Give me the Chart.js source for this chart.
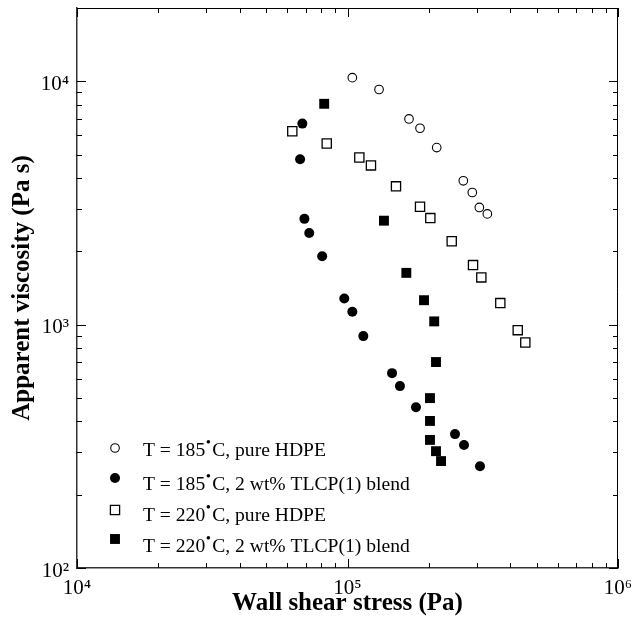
<!DOCTYPE html>
<html lang="en">
<head>
  <meta charset="UTF-8">
  <title>Apparent viscosity vs wall shear stress</title>
  <script src="https://cdn.jsdelivr.net/npm/chart.js"></script>
  <style>
    body { margin: 0; background: #fff; }
  </style>
</head>
<body>
  <canvas id="grafico" width="642" height="626"></canvas>
<script>
  // valores: tensao na parede (Pa) e viscosidade aparente (Pa s)
  const tensao185Puro = [104200, 130800, 168800, 185400, 213700, 268000, 289300, 307200, 328800]
  const visc185Puro = [10350, 9250, 7000, 6410, 5340, 3900, 3490, 3030, 2850]

  const tensao185Blenda = [68100, 66800, 69300, 72200, 80600, 97300, 104200, 114400, 146100, 156300, 179100, 249700, 269600, 308900]
  const visc185Blenda = [6700, 4780, 2720, 2380, 1910, 1280, 1130, 897, 632, 559, 458, 355, 320, 262]

  const tensao220Puro = [62500, 83800, 110600, 122100, 151100, 185400, 202400, 242800, 291100, 312400, 367200, 425900, 454300]
  const visc220Puro = [6230, 5550, 4860, 4510, 3700, 3050, 2740, 2200, 1756, 1563, 1226, 949, 845]

  const tensao220Blenda = [82000, 136400, 165000, 191800, 209200, 212400, 201800, 201800, 201800, 212400, 221700]
  const visc220Blenda = [8080, 2674, 1632, 1260, 1031, 702, 499, 402, 336, 302, 275]

  const legendas = ['T = 185°C, pure HDPE', 'T = 185°C, 2 wt% TLCP(1) blend', 'T = 220°C, pure HDPE', 'T = 220°C, 2 wt% TLCP(1) blend']

  const decadasX = [1e4, 1e5, 1e6]
  const rotulosX = ['10⁴', '10⁵', '10⁶']
  const decadasY = [1e2, 1e3, 1e4]
  const rotulosY = ['10²', '10³', '10⁴']

  const fonte = 'Liberation Serif, Times New Roman, serif'

  function pontos(xs, ys) {
    let lista = []
    for (let i = 0; i < xs.length; i++) {
      lista.push({ x: xs[i], y: ys[i] })
    }
    return lista
  }

  // tracinhos internos nos quatro lados + moldura de cima e da direita
  const moldura = {
    id: 'moldura',
    afterDraw(chart) {
      const ctx = chart.ctx
      const a = chart.chartArea
      const sx = chart.scales.x
      const sy = chart.scales.y
      ctx.save()
      ctx.strokeStyle = '#000'
      ctx.lineWidth = 1
      ctx.beginPath()
      ctx.moveTo(a.left, a.top + 0.5)
      ctx.lineTo(a.right - 0.5, a.top + 0.5)
      ctx.lineTo(a.right - 0.5, a.bottom)
      ctx.stroke()

      ctx.beginPath()
      for (let d = 1e4; d < 1e6; d *= 10) {
        for (let m = 1; m <= 10; m++) {
          const px = Math.round(sx.getPixelForValue(d * m)) + 0.5
          const len = (m == 1 || m == 10) ? 9 : 5
          ctx.moveTo(px, a.bottom); ctx.lineTo(px, a.bottom - len)
          ctx.moveTo(px, a.top); ctx.lineTo(px, a.top + len)
        }
      }
      for (let d = 100; d <= 10000; d *= 10) {
        for (let m = 1; m <= 9; m++) {
          const v = d * m
          if (v > 20000) break
          const py = Math.round(sy.getPixelForValue(v)) + 0.5
          const len = (m == 1) ? 9 : 5
          ctx.moveTo(a.left, py); ctx.lineTo(a.left + len, py)
          ctx.moveTo(a.right, py); ctx.lineTo(a.right - len, py)
        }
      }
      ctx.stroke()
      ctx.restore()
    }
  }

  // legenda dentro do grafico, canto inferior esquerdo
  const legendaInterna = {
    id: 'legendaInterna',
    afterDraw(chart) {
      const ctx = chart.ctx
      const marcadorY = [448, 478, 510, 539]
      const textoY = [456, 490, 521, 552]
      ctx.save()
      for (let i = 0; i < legendas.length; i++) {
        const ds = chart.data.datasets[i]
        const mx = 115
        const my = marcadorY[i]
        ctx.fillStyle = ds.backgroundColor
        ctx.strokeStyle = ds.borderColor
        ctx.lineWidth = ds.borderWidth
        ctx.beginPath()
        if (ds.pointStyle == 'circle') {
          ctx.arc(mx, my, ds.pointRadius, 0, Math.PI * 2)
        } else {
          const s = ds.pointRadius * Math.SQRT1_2
          ctx.rect(mx - s, my - s, s * 2, s * 2)
        }
        ctx.fill()
        if (ds.borderWidth > 0) ctx.stroke()

        const partes = legendas[i].split('°')
        ctx.fillStyle = '#000'
        ctx.textBaseline = 'alphabetic'
        ctx.font = '19.6px ' + fonte
        let tx = 143
        ctx.fillText(partes[0], tx, textoY[i])
        tx += ctx.measureText(partes[0]).width
        ctx.font = '15px ' + fonte
        ctx.fillText('•', tx + 0.5, textoY[i] - 9)
        tx += 7
        ctx.font = '19.6px ' + fonte
        ctx.fillText(partes[1], tx, textoY[i])
      }
      ctx.restore()
    }
  }

  new Chart(document.getElementById('grafico'), {
    type: 'scatter',
    data: {
      datasets: [
        { label: legendas[0], data: pontos(tensao185Puro, visc185Puro), pointStyle: 'circle', pointRadius: 4.3, backgroundColor: '#fff', borderColor: '#000', borderWidth: 1.1 },
        { label: legendas[1], data: pontos(tensao185Blenda, visc185Blenda), pointStyle: 'circle', pointRadius: 5, backgroundColor: '#000', borderColor: '#000', borderWidth: 0 },
        { label: legendas[2], data: pontos(tensao220Puro, visc220Puro), pointStyle: 'rect', pointRadius: 6.5, backgroundColor: '#fff', borderColor: '#000', borderWidth: 1.3 },
        { label: legendas[3], data: pontos(tensao220Blenda, visc220Blenda), pointStyle: 'rect', pointRadius: 7, backgroundColor: '#000', borderColor: '#000', borderWidth: 0 }
      ]
    },
    options: {
      responsive: false,
      animation: false,
      layout: { padding: { top: 8, right: 24, left: 0, bottom: 0 } },
      plugins: {
        legend: { display: false },
        tooltip: { enabled: false }
      },
      elements: { point: { hoverRadius: 0 } },
      scales: {
        x: {
          type: 'logarithmic',
          min: 1e4,
          max: 1e6,
          grid: { display: false, drawTicks: false },
          border: { display: true, color: '#333', width: 1.5 },
          afterBuildTicks: (s) => { s.ticks = decadasX.map(v => ({ value: v })) },
          afterFit: (s) => { s.height = 58; s.paddingLeft = 0; s.paddingRight = 0 },
          ticks: {
            autoSkip: false,
            maxRotation: 0,
            padding: 8,
            color: '#000',
            font: { family: fonte, size: 21 },
            callback: (v) => {
              const i = decadasX.indexOf(v)
              return i >= 0 ? rotulosX[i] : ''
            }
          },
          title: {
            display: true,
            text: 'Wall shear stress (Pa)',
            color: '#000',
            font: { family: fonte, size: 25, weight: 'bold' },
            padding: { top: 0, bottom: 7 }
          }
        },
        y: {
          type: 'logarithmic',
          min: 100,
          max: 20000,
          grid: { display: false, drawTicks: false },
          border: { display: true, color: '#333', width: 1.5 },
          afterBuildTicks: (s) => { s.ticks = decadasY.map(v => ({ value: v })) },
          afterFit: (s) => { s.width = 77; s.paddingTop = 0; s.paddingBottom = 0 },
          ticks: {
            autoSkip: false,
            padding: 8,
            labelOffset: 3,
            color: '#000',
            font: { family: fonte, size: 21 },
            callback: (v) => {
              const i = decadasY.indexOf(v)
              return i >= 0 ? rotulosY[i] : ''
            }
          },
          title: {
            display: true,
            text: 'Apparent viscosity (Pa s)',
            color: '#000',
            font: { family: fonte, size: 25, weight: 'bold' },
            padding: { top: 8, bottom: 0 }
          }
        }
      }
    },
    plugins: [moldura, legendaInterna]
  })
</script>
</body>
</html>
